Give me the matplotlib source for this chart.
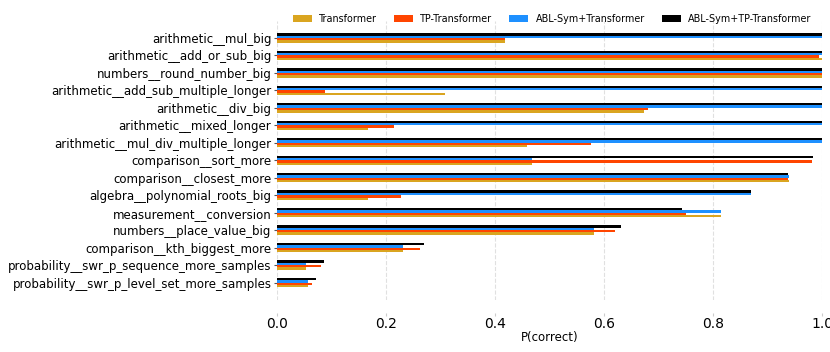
import matplotlib
matplotlib.use("Agg")
import matplotlib.pyplot as plt
import numpy as np

tasks = [
    "arithmetic__mul_big",
    "arithmetic__add_or_sub_big",
    "numbers__round_number_big",
    "arithmetic__add_sub_multiple_longer",
    "arithmetic__div_big",
    "arithmetic__mixed_longer",
    "arithmetic__mul_div_multiple_longer",
    "comparison__sort_more",
    "comparison__closest_more",
    "algebra__polynomial_roots_big",
    "measurement__conversion",
    "numbers__place_value_big",
    "comparison__kth_biggest_more",
    "probability__swr_p_sequence_more_samples",
    "probability__swr_p_level_set_more_samples",
]

transformer = [0.418, 1.0, 1.0, 0.309, 0.673, 0.167, 0.459, 0.467, 0.940, 0.167,
               0.814, 0.582, 0.232, 0.054, 0.056]
tp_transformer = [0.418, 0.994, 1.0, 0.088, 0.681, 0.215, 0.577, 0.982, 0.937, 0.227,
                  0.750, 0.621, 0.263, 0.080, 0.065]
abl_transformer = [1.0, 1.0, 1.0, 1.0, 1.0, 1.0, 1.0, 0.467, 0.940, 0.870,
                   0.814, 0.582, 0.232, 0.054, 0.057]
abl_tp_transformer = [1.0, 1.0, 1.0, 1.0, 1.0, 1.0, 1.0, 0.984, 0.937, 0.870,
                      0.743, 0.632, 0.270, 0.087, 0.072]

series = [
    ("Transformer", transformer, "#DAA520"),
    ("TP-Transformer", tp_transformer, "#FF4500"),
    ("ABL-Sym+Transformer", abl_transformer, "#1E90FF"),
    ("ABL-Sym+TP-Transformer", abl_tp_transformer, "black"),
]

fig = plt.figure(figsize=(8.3, 3.52), dpi=100)
ax = fig.add_axes([277 / 830, 1 - 300 / 352, 545 / 830, (300 - 20.5) / 352])

y = np.arange(len(tasks))
w = 0.135
# gold at the bottom of each group, black on top
offsets = [1.5 * w, 0.5 * w, -0.5 * w, -1.5 * w]
for (name, vals, col), off in zip(series, offsets):
    ax.barh(y + off, vals, height=w, color=col, label=name, zorder=3)

ax.set_ylim(len(tasks) - 0.0, -1.0)
ax.set_xlim(0, 1.0)
ax.set_yticks(y)
ax.set_yticklabels(tasks, fontsize=8.5)
ax.set_xticks(np.arange(0, 1.01, 0.2))
ax.set_xticklabels(["0.0", "0.2", "0.4", "0.6", "0.8", "1.0"], fontsize=8.5)
ax.set_xlabel("P(correct)", fontsize=8.5, labelpad=0)

ax.grid(axis="x", linestyle="--", color="#e0e0e0", linewidth=0.8, zorder=0)
for s in ["top", "right", "left", "bottom"]:
    ax.spines[s].set_visible(False)
ax.spines["bottom"].set_position(("outward", 9.4))
ax.tick_params(axis="x", length=2.2, color="#cccccc", pad=0.8)
ax.tick_params(axis="y", length=2.5, color="#555555", pad=1.5)

fig.legend(loc="center", bbox_to_anchor=(552 / 830, 1 - 19 / 352), ncol=4,
           frameon=False, fontsize=6.9, handlelength=2.0, handleheight=0.75,
           handletextpad=0.75, columnspacing=1.75)

fig.savefig("out.png", dpi=100)
